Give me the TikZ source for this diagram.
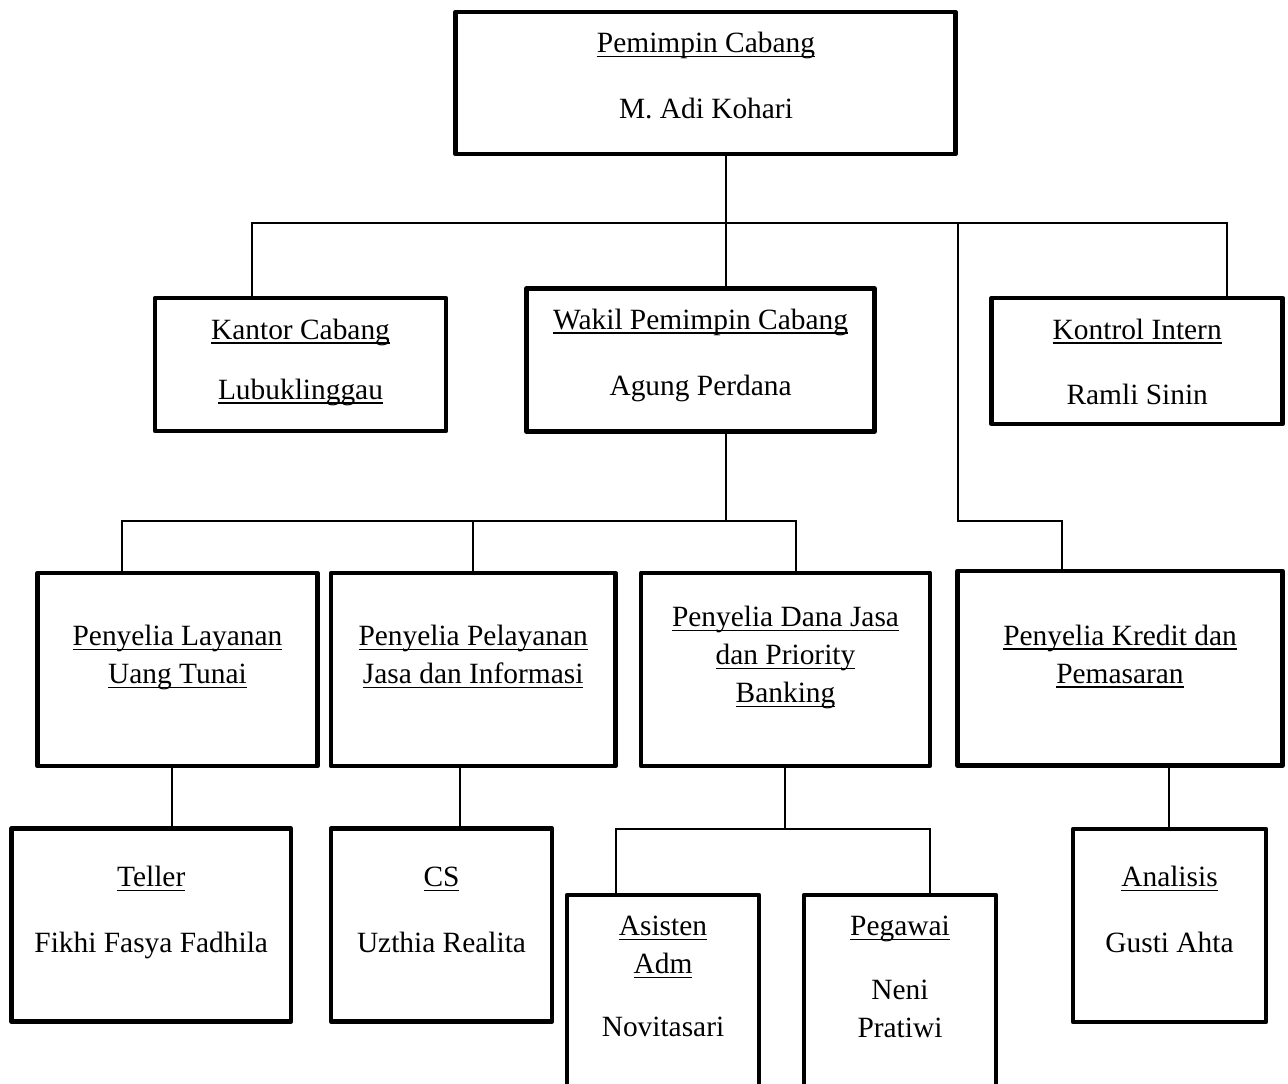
\documentclass[tikz,border=0pt]{standalone}
\usepackage{fontspec}
\setmainfont{Liberation Serif}

% garis bawah dengan posisi tetap
\newcommand\garis[1]{\setbox0\hbox{#1}\rlap{\rule[-4.4pt]{\wd0}{1.7pt}}\box0}

\begin{document}
\begin{tikzpicture}[x=1pt,y=-1pt,
    kotak/.style={draw, line width=4.5pt, line join=round, inner sep=0pt},
    link/.style={line width=1.4pt},
    isi/.style={align=center, anchor=north, inner sep=0pt, font=\fontsize{29.4}{38}\selectfont}]
    \useasboundingbox (0,0) rectangle (1288,1084);

    % kotak jabatan
    \node[kotak, minimum width=500pt, minimum height=142pt] (pimpinan) at (705.5,83) {};
    \node[kotak, minimum width=291pt, minimum height=133pt] (kantor) at (300.5,364.5) {};
    \node[kotak, minimum width=348pt, minimum height=143pt] (wakil) at (700.6,360) {};
    \node[kotak, minimum width=291pt, minimum height=126pt] (kontrol) at (1137.2,361) {};
    \node[kotak, minimum width=280pt, minimum height=193pt] (layanan) at (177.5,669.5) {};
    \node[kotak, minimum width=284.5pt, minimum height=193pt] (pelayanan) at (473.2,669.5) {};
    \node[kotak, minimum width=289pt, minimum height=193pt] (danajasa) at (785.5,669.3) {};
    \node[kotak, minimum width=325pt, minimum height=194.7pt] (kredit) at (1120,668.3) {};
    \node[kotak, minimum width=279.5pt, minimum height=193pt] (teller) at (151.2,925.1) {};
    \node[kotak, minimum width=221pt, minimum height=193pt] (cs) at (441.5,925.1) {};
    \node[kotak, minimum width=193pt, minimum height=193pt] (analisis) at (1169.5,925.5) {};
    \node[kotak, minimum width=192pt, minimum height=225pt] (asisten) at (663,1007.5) {};
    \node[kotak, minimum width=192pt, minimum height=225pt] (pegawai) at (900,1007.5) {};

    % isi kotak
    \node[isi] (tpimpinan) at (706,26.1) {\strut\garis{Pemimpin Cabang}\\[28pt]M. Adi Kohari};
    \node[isi] (tkantor) at (300.5,312.7) {\strut\garis{Kantor Cabang}\\[22pt]\garis{Lubuklinggau}};
    \node[isi] (twakil) at (700.6,302.7) {\strut\garis{Wakil Pemimpin Cabang}\\[28pt]Agung Perdana};
    \node[isi] (tkontrol) at (1137.2,312.4) {\strut\garis{Kontrol Intern}\\[27pt]Ramli Sinin};
    \node[isi] (tlayanan) at (177.5,619.1) {\strut\garis{Penyelia Layanan}\\\garis{Uang Tunai}};
    \node[isi] (tpelayanan) at (473.2,619.1) {\strut\garis{Penyelia Pelayanan}\\\garis{Jasa dan Informasi}};
    \node[isi] (tdanajasa) at (785.5,600.1) {\strut\garis{Penyelia Dana Jasa}\\\garis{dan Priority}\\\garis{Banking}};
    \node[isi] (tkredit) at (1120,618.4) {\strut\garis{Penyelia Kredit dan}\\\garis{Pemasaran}};
    \node[isi] (tteller) at (151.2,860.1) {\strut\garis{Teller}\\[28pt]Fikhi Fasya Fadhila};
    \node[isi] (tcs) at (441.5,860.1) {\strut\garis{CS}\\[28pt]Uzthia Realita};
    \node[isi] (tanalisis) at (1169.5,860.1) {\strut\garis{Analisis}\\[28pt]Gusti Ahta};
    \node[isi] (tasisten) at (663,909.1) {\strut\garis{Asisten}\\\garis{Adm}\\[25pt]Novitasari};
    \node[isi] (tpegawai) at (900,909.1) {\strut\garis{Pegawai}\\[26pt]Neni\\Pratiwi};

    % garis penghubung
    \draw[link] (726,0 |- pimpinan.south) -- (726,0 |- wakil.north);
    \draw[link] (252,0 |- kantor.north) |- (1227,223) -- (1227,0 |- kontrol.north);
    \draw[link] (958,223) |- (1062,521) -- (1062,0 |- kredit.north);
    \draw[link] (726,0 |- wakil.south) -- (726,521);
    \draw[link] (122,0 |- layanan.north) |- (796,521) -- (796,0 |- danajasa.north);
    \draw[link] (473,521) -- (473,0 |- pelayanan.north);
    \foreach \x/\atas/\bawah in {172/layanan/teller, 460/pelayanan/cs, 1169/kredit/analisis}
    \draw[link] (\x,0 |- \atas.south) -- (\x,0 |- \bawah.north);
    \draw[link] (785,0 |- danajasa.south) -- (785,829);
    \draw[link] (616,0 |- asisten.north) |- (930,829) -- (930,0 |- pegawai.north);
\end{tikzpicture}
\end{document}
